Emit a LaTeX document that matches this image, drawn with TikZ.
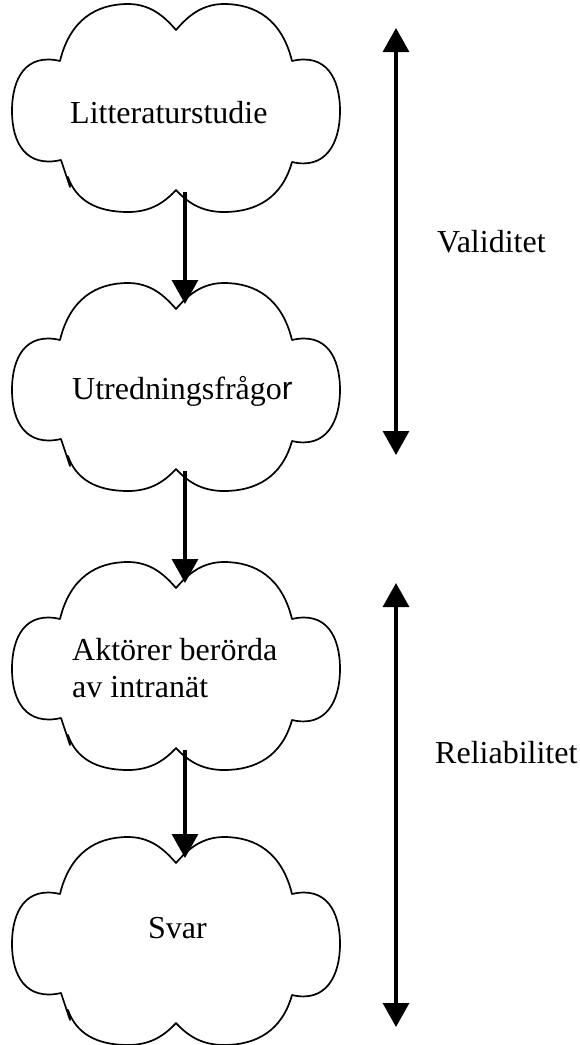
\documentclass[tikz,border=0pt]{standalone}
\usepackage{fontspec}
\setmainfont{Liberation Serif}
\newfontfamily\sansr{Liberation Sans}
\usetikzlibrary{arrows.meta}

\tikzset{
  cloudline/.style={line width=1.7pt, line join=round, line cap=round},
  flow/.style={line width=3.2pt, -{Triangle[width=26pt,length=24pt]}},
  span/.style={line width=3.2pt, {Triangle[width=26pt,length=24pt]}-{Triangle[width=26pt,length=24pt]}},
  label/.style={inner sep=0pt, anchor=base west, font=\fontsize{32}{37}\selectfont},
  % six-lobed cloud outline around the origin, with entry and exit points
  cloud/.pic={
    \draw[cloudline] (-106,79) -- (-115,52)
      .. controls (-150,60) and (-164,35) .. (-164,3)
      .. controls (-164,-30) and (-150,-55) .. (-116,-47)
      .. controls (-106,-88) and (-80,-104) .. (-48,-104)
      .. controls (-26,-104) and (-12,-92) .. (0,-78)
      .. controls (12,-92) and (26,-104) .. (48,-104)
      .. controls (80,-104) and (106,-88) .. (116,-47)
      .. controls (150,-55) and (164,-30) .. (164,3)
      .. controls (164,35) and (150,62) .. (116,54)
      .. controls (106,90) and (80,104) .. (48,104)
      .. controls (26,104) and (12,95) .. (0,82)
      .. controls (-12,95) and (-26,104) .. (-48,104)
      .. controls (-80,104) and (-100,92) .. (-108,69);
    \coordinate (-in) at (9,-83);
    \coordinate (-out) at (9,84);
  }
}

\begin{document}
\begin{tikzpicture}[x=1pt, y=-1pt]
  \useasboundingbox (0,0) rectangle (579,1045);

  % clouds
  \pic (c1) at (176,108) {cloud};
  \pic (c2) at (176,387) {cloud};
  \pic (c3) at (176,666) {cloud};
  \pic (c4) at (176,941) {cloud};

  % cloud texts (a multi-line node sits on its last baseline)
  \node[label] (lit) at (70,123) {Litteraturstudie};
  \node[label] (utr) at (72,399) {Utredningsfrågo{\sansr r}};
  \node[label, align=left] (akt) at (72,697) {Aktörer berörda\\av intranät};
  \node[label] (svar) at (148,938) {Svar};

  % flow between the clouds
  \draw[flow] (c1-out) -- (c2-in);
  \draw[flow] (c2-out) -- (c3-in);
  \draw[flow] (c3-out) -- (c4-in);

  % validity and reliability ranges
  \coordinate (vtop) at (396,28);
  \coordinate (vbot) at (396,455);
  \coordinate (rtop) at (396,583);
  \coordinate (rbot) at (396,1027);
  \draw[span] (vtop) -- (vbot);
  \draw[span] (rtop) -- (rbot);

  \node[label] (val) at (437,252) {Validitet};
  \node[label] (rel) at (435,763) {Reliabilitet};
\end{tikzpicture}
\end{document}
